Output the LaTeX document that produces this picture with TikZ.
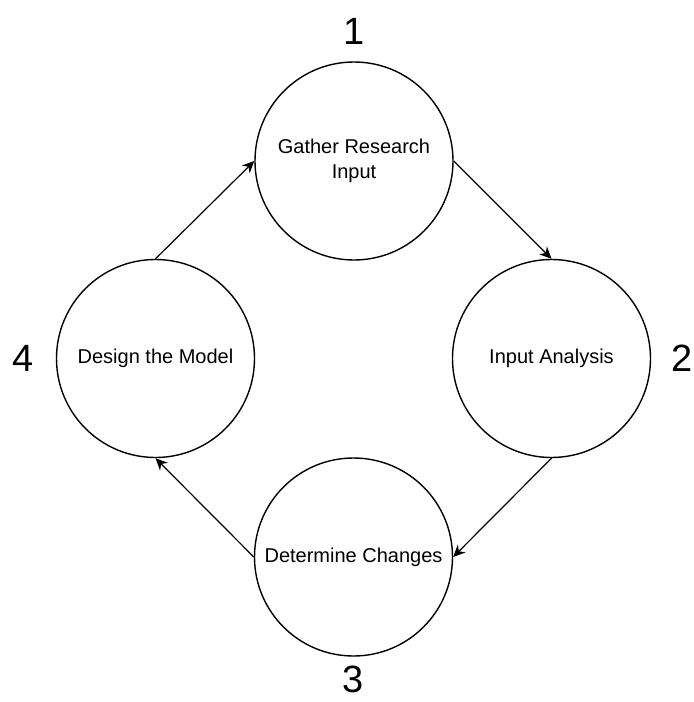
\documentclass[tikz,border=0pt]{standalone}
\usepackage{fontspec}
\setmainfont{Liberation Sans}
\usetikzlibrary{arrows.meta,positioning}
\tikzset{
  stagecircle/.style={
    draw,circle,minimum size=99pt,inner sep=1pt,align=center,
    line width=0.7pt,font=\fontsize{10}{12.5}\selectfont
  },
  stepnum/.style={inner sep=0pt,font=\fontsize{19}{22}\selectfont},
  cyclearrow/.style={-{Stealth[length=6pt,width=5.5pt]},line width=0.6pt}
}
\begin{document}
\begin{tikzpicture}[x=0.5pt,y=-0.5pt]
  \useasboundingbox (0,0) rectangle (693,702);
  \node[stagecircle] (gather) at (354,161) {Gather Research\\Input};
  \node[stagecircle] (analysis) at (551.5,358.5) {Input Analysis};
  \node[stagecircle] (changes) at (353.5,557) {Determine Changes};
  \node[stagecircle] (design) at (155.5,358.5) {Design the Model};
  % step numbers
  \node[stepnum,above=8pt of gather] (num1) {1};
  \node[stepnum,right=10pt of analysis] (num2) {2};
  \node[stepnum,below=4.5pt of changes] (num3) {3};
  \node[stepnum,left=11pt of design] (num4) {4};
  \draw[cyclearrow] (gather.east)--(analysis.north);
  \draw[cyclearrow] (analysis.south)--(changes.east);
  \draw[cyclearrow] (changes.west)--(design.south);
  \draw[cyclearrow] (design.north)--(gather.west);
\end{tikzpicture}
\end{document}
